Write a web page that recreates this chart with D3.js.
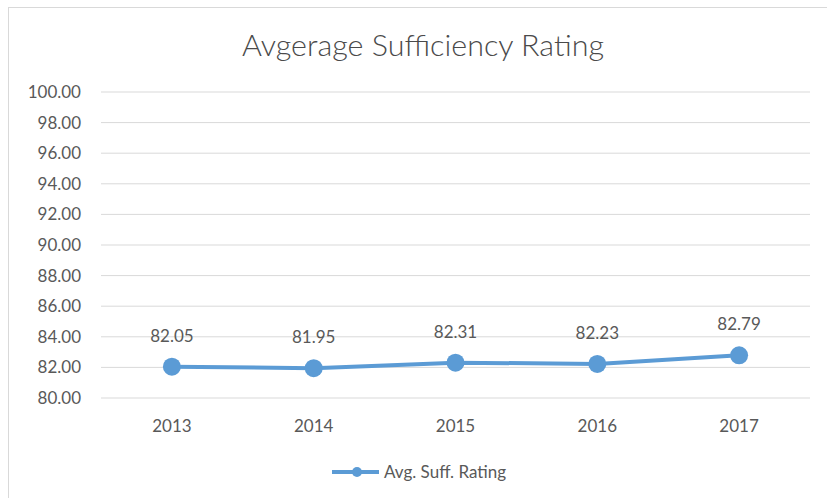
<!DOCTYPE html>
<html>
<head>
<meta charset="utf-8">
<script src="https://cdn.jsdelivr.net/npm/d3@7"></script>
<style>
  body { margin: 0; background: #fff; }
  text { font-family: Lato, "Open Sans", sans-serif; fill: #595959; }
</style>
</head>
<body>
<div id="chart"></div>
<script>
// chart data
var years = ["2013", "2014", "2015", "2016", "2017"];
var ratings = [82.05, 81.95, 82.31, 82.23, 82.79];
var yTicks = [80, 82, 84, 86, 88, 90, 92, 94, 96, 98, 100];
var seriesName = "Avg. Suff. Rating";
var chartTitle = "Avgerage Sufficiency Rating";

var svgWidth = 827, svgHeight = 498;
var margin = { top: 92, left: 101, right: 17, bottom: 100 };
var width = svgWidth - margin.left - margin.right;
var height = 398 - margin.top;
var blue = "#5B9BD5";

var svg = d3.select("#chart").append("svg")
    .attr("width", svgWidth)
    .attr("height", svgHeight);

// outer chart border
svg.append("rect")
    .attr("x", 8.5).attr("y", 7.5)
    .attr("width", 830).attr("height", 500)
    .attr("fill", "none")
    .attr("stroke", "#d9d9d9");

svg.append("text")
    .attr("x", 423).attr("y", 56)
    .attr("text-anchor", "middle")
    .style("font-size", "30px")
    .style("font-weight", 300)
    .style("fill", "#4a4a4a")
    .attr("textLength", 362)
    .attr("lengthAdjust", "spacingAndGlyphs")
    .text(chartTitle);

var chartGroup = svg.append("g")
    .attr("transform", `translate(${margin.left}, ${margin.top})`);

var xScale = d3.scaleBand()
    .domain(years)
    .range([0, width]);

var yScale = d3.scaleLinear()
    .domain([80, 100])
    .range([height, 0]);

// gridlines
chartGroup.selectAll(".grid")
    .data(yTicks)
    .enter()
    .append("line")
    .attr("x1", 0).attr("x2", width)
    .attr("y1", d => yScale(d)).attr("y2", d => yScale(d))
    .attr("stroke", "#d9d9d9")
    .attr("stroke-width", 1);

// y labels
chartGroup.selectAll(".ylab")
    .data(yTicks)
    .enter()
    .append("text")
    .attr("x", -20)
    .attr("y", d => yScale(d))
    .attr("dy", "0.35em")
    .attr("text-anchor", "end")
    .style("font-size", "17px")
    .text(d => d.toFixed(2));

// x labels
chartGroup.selectAll(".xlab")
    .data(years)
    .enter()
    .append("text")
    .attr("x", d => xScale(d) + xScale.bandwidth() / 2)
    .attr("y", height + 28)
    .attr("dy", "0.35em")
    .attr("text-anchor", "middle")
    .style("font-size", "17px")
    .text(d => d);

var line = d3.line()
    .x((d, i) => xScale(years[i]) + xScale.bandwidth() / 2)
    .y(d => yScale(d));

chartGroup.append("path")
    .datum(ratings)
    .attr("d", line)
    .attr("fill", "none")
    .attr("stroke", blue)
    .attr("stroke-width", 4)
    .attr("stroke-linejoin", "round");

chartGroup.selectAll(".pt")
    .data(ratings)
    .enter()
    .append("circle")
    .attr("cx", (d, i) => xScale(years[i]) + xScale.bandwidth() / 2)
    .attr("cy", d => yScale(d))
    .attr("r", 9)
    .attr("fill", blue);

chartGroup.selectAll(".dlab")
    .data(ratings)
    .enter()
    .append("text")
    .attr("x", (d, i) => xScale(years[i]) + xScale.bandwidth() / 2)
    .attr("y", d => yScale(d) - 31)
    .attr("dy", "0.35em")
    .attr("text-anchor", "middle")
    .style("font-size", "17px")
    .text(d => d.toFixed(2));

// legend
var legend = svg.append("g").attr("transform", "translate(332, 472)");
legend.append("line")
    .attr("x1", 0).attr("x2", 47)
    .attr("stroke", blue).attr("stroke-width", 4);
legend.append("circle")
    .attr("cx", 25).attr("r", 5).attr("fill", blue);
legend.append("text")
    .attr("x", 52).attr("dy", "0.35em")
    .style("font-size", "17px")
    .text(seriesName);
</script>
</body>
</html>
